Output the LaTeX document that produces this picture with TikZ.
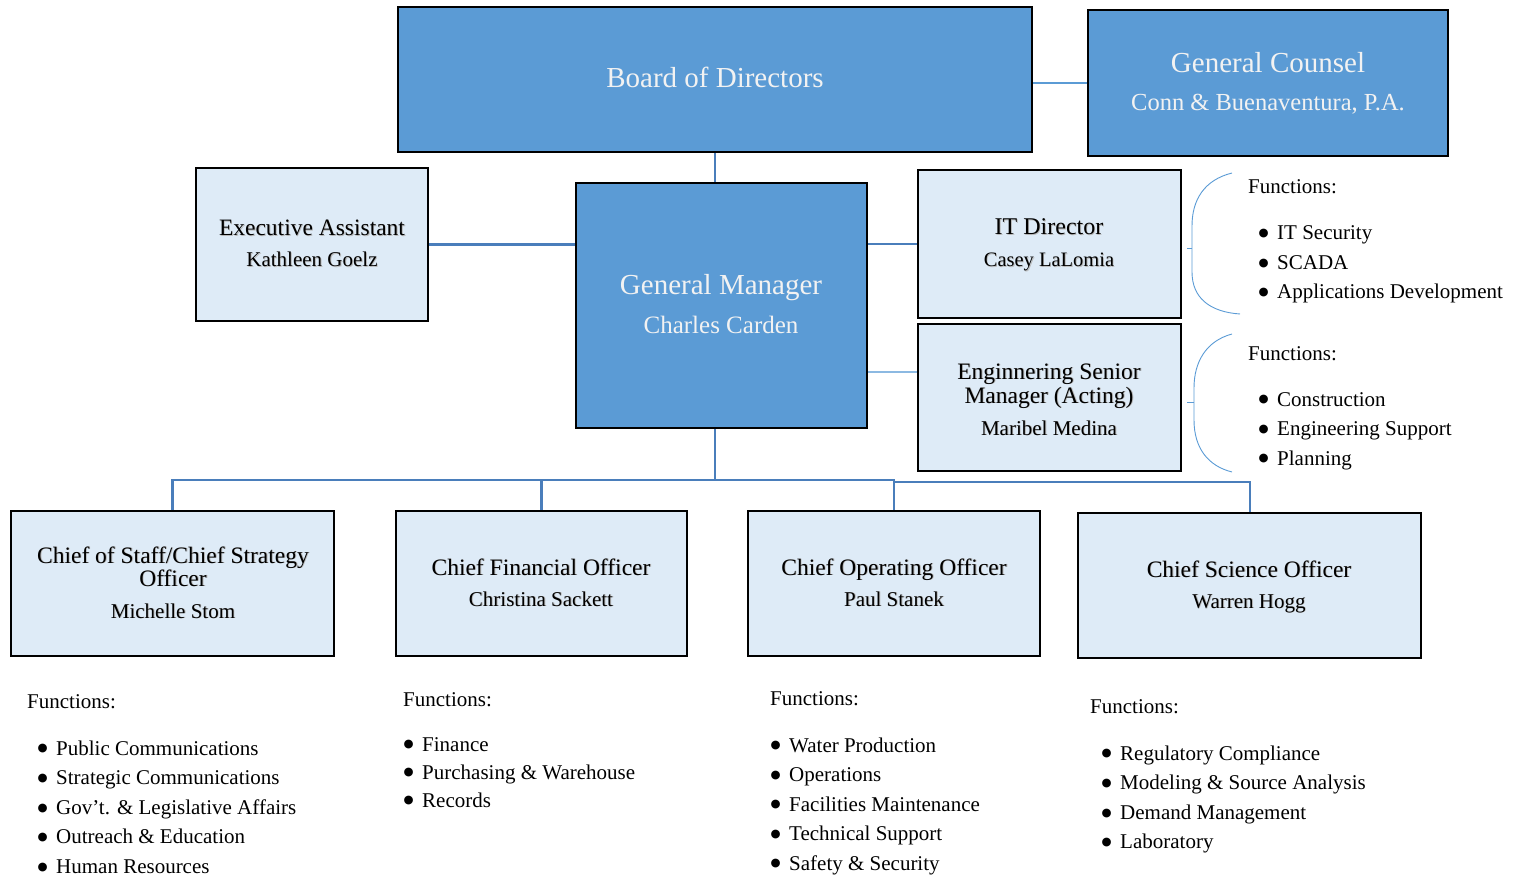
\documentclass[tikz,border=0pt]{standalone}
\usepackage{fontspec}
\setmainfont{Liberation Serif}
\newfontfamily\symfont{DejaVu Sans}
\definecolor{darkbox}{HTML}{5B9BD5}
\definecolor{lightbox}{HTML}{DEEBF7}
\definecolor{linkblue}{HTML}{4A7EBB}
\definecolor{paleblue}{HTML}{5B9BD5}
\newcommand\fs[1]{\fontsize{#1}{#1}\selectfont}
% soft grey drop shadow under dark text
\newcommand\shd[1]{\rlap{\kern0.9pt\raisebox{-0.9pt}{\textcolor{black!28}{#1}}}#1}
% round list bullet
\newcommand\bul{\raisebox{3.2pt}{\symfont\fontsize{11.5}{11.5}\selectfont ●}}
% bulleted function list: name, bullet x, first baseline, line step, items
\newcommand\funclist[5]{%
  \foreach \t [count=\i] in {#5}{%
    \node[listtext] (#1-\i) at (#2,{#3+(\i-1)*#4}) {\makebox[18.5pt][l]{\bul}\t};}}
\begin{document}
\begin{tikzpicture}[x=1pt,y=-1pt,
  darkb/.style={draw=black,line width=2pt,fill=darkbox,inner sep=0pt},
  lightb/.style={draw=black,line width=2pt,fill=lightbox,inner sep=0pt},
  wtext/.style={text=white!95!black,inner sep=0pt,anchor=base},
  btext/.style={text=black,inner sep=0pt,anchor=base},
  listtext/.style={text=black,inner sep=0pt,anchor=base west,font=\fs{21}},
  conn/.style={draw=linkblue,line width=2.2pt},
  thin/.style={draw=paleblue,line width=1.1pt},
  brace/.style={draw=paleblue,line width=0.9pt}]
\useasboundingbox (0,0) rectangle (1518,877);

% boxes
\node[darkb,minimum width=634pt,minimum height=145pt] (board) at (715,79.5) {};
\node[darkb,minimum width=360pt,minimum height=146pt] (gc) at (1268,83) {};
\node[lightb,minimum width=232pt,minimum height=153pt] (ea) at (312,244.5) {};
\node[darkb,minimum width=291pt,minimum height=245pt] (gm) at (721.5,305.5) {};
\node[lightb,minimum width=263pt,minimum height=148pt] (it) at (1049.5,244) {};
\node[lightb,minimum width=263pt,minimum height=147pt] (eng) at (1049.5,397.5) {};
\node[lightb,minimum width=323pt,minimum height=145pt] (cos) at (172.5,583.5) {};
\node[lightb,minimum width=291pt,minimum height=145pt] (cfo) at (541.5,583.5) {};
\node[lightb,minimum width=292pt,minimum height=145pt] (coo) at (894,583.5) {};
\node[lightb,minimum width=343pt,minimum height=145pt] (cso) at (1249.5,585.5) {};

% connectors
\coordinate (bus) at (715,480);
\draw[conn] (board.south) -- (board.south |- gm.north);
\draw[thin] (gc.west) -- (gc.west -| board.east);
\draw[conn] (ea.east) -- (ea.east -| gm.west);
\draw[conn] (it.west) -- (it.west -| gm.east);
\draw[thin,draw=paleblue!70] ([yshift=25.5pt]eng.west) -- ([yshift=25.5pt]eng.west -| gm.east);
\draw[conn] (bus |- gm.south) -- (bus);
\draw[conn] (cos.north) |- (bus);
\draw[conn] (cfo.north) -- (cfo.north |- bus);
\draw[conn,line width=2.8pt] (bus) -| (coo.north);
\draw[conn,line width=2pt] ([yshift=-1.5pt]coo.north |- bus) -| (cso.north);

% braces
\draw[brace] (1232,173) .. controls (1204,180) and (1192,200) .. (1192,226) -- (1192,272)
  .. controls (1192,298) and (1210,312) .. (1240,314);
\coordinate (itbrace) at (1192,248);
\draw[brace] (itbrace) -- ++(-5,0);
\draw[brace] (1232,334) .. controls (1206,341) and (1194,362) .. (1194,388) -- (1194,420)
  .. controls (1194,448) and (1208,466) .. (1232,472);
\coordinate (engbrace) at (1194,402);
\draw[brace] (engbrace) -- ++(-7,0);

% box texts
\node[wtext] (boardT) at (715,88) {\fs{29}Board of Directors};
\node[wtext] (gcT) at (1268,72.6) {\fs{29}General Counsel};
\node[wtext] (gcN) at (1268,111) {\fs{24.5}Conn \& Buenaventura, P.A.};
\node[wtext] (gmT) at (721,295) {\fs{29}General Manager};
\node[wtext] (gmN) at (721,334) {\fs{25}Charles Carden};
\node[btext] (eaT) at (312,236) {\fs{23.5}\shd{Executive Assistant}};
\node[btext] (eaN) at (312,267) {\fs{21}\shd{Kathleen Goelz}};
\node[btext] (itT) at (1049,235) {\fs{24}\shd{IT Director}};
\node[btext] (itN) at (1049,267) {\fs{20.5}\shd{Casey LaLomia}};
\node[btext] (engT1) at (1049,379) {\fs{23.5}\shd{Enginnering Senior}};
\node[btext] (engT2) at (1049,403) {\fs{23.5}\shd{Manager (Acting)}};
\node[btext] (engN) at (1049,435) {\fs{21}\shd{Maribel Medina}};
\node[btext] (cosT1) at (173,563) {\fs{23.5}\shd{Chief of Staff/Chief Strategy}};
\node[btext] (cosT2) at (173,586) {\fs{23.5}\shd{Officer}};
\node[btext] (cosN) at (173,618) {\fs{21}\shd{Michelle Stom}};
\node[btext] (cfoT) at (541,575) {\fs{23.5}\shd{Chief Financial Officer}};
\node[btext] (cfoN) at (541,606) {\fs{21}\shd{Christina Sackett}};
\node[btext] (cooT) at (894,575) {\fs{23.5}\shd{Chief Operating Officer}};
\node[btext] (cooN) at (894,606) {\fs{21}\shd{Paul Stanek}};
\node[btext] (csoT) at (1249,577) {\fs{23.5}\shd{Chief Science Officer}};
\node[btext] (csoN) at (1249,608) {\fs{21}\shd{Warren Hogg}};

% function lists
\node[listtext] (itF) at (1248,194) {Functions:};
\funclist{itL}{1258.5}{240}{29.5}{IT Security,SCADA,Applications Development}
\node[listtext] (engF) at (1248,360) {Functions:};
\funclist{engL}{1258.5}{406}{29.5}{Construction,Engineering Support,Planning}
\node[listtext] (cosF) at (27,708) {Functions:};
\funclist{cosL}{37.5}{755}{29.6}{Public Communications,Strategic Communications,Gov’t. \& Legislative Affairs,Outreach \& Education,Human Resources}
\node[listtext] (cfoF) at (403,706) {Functions:};
\funclist{cfoL}{403.5}{751}{28}{Finance,Purchasing \& Warehouse,Records}
\node[listtext] (cooF) at (770,705) {Functions:};
\funclist{cooL}{770.5}{752}{29.5}{Water Production,Operations,Facilities Maintenance,Technical Support,Safety \& Security}
\node[listtext] (csoF) at (1090,713) {Functions:};
\funclist{csoL}{1101.5}{760}{29.6}{Regulatory Compliance,Modeling \& Source Analysis,Demand Management,Laboratory}
\end{tikzpicture}
\end{document}
